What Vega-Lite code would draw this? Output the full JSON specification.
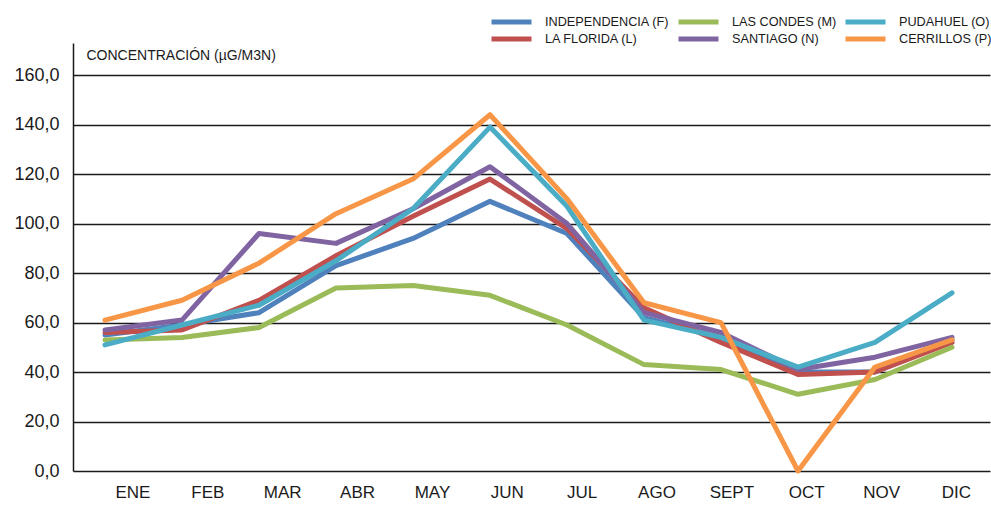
{
  "$schema": "https://vega.github.io/schema/vega-lite/v6.json",
  "width": 917,
  "height": 428,
  "autosize": {"type": "none"},
  "padding": {"left": 73, "top": 43, "right": 1, "bottom": 34},
  "background": "white",
  "config": {
    "view": {"stroke": null},
    "font": "Liberation Sans",
    "axis": {"labelFont": "Liberation Sans", "titleFont": "Liberation Sans"},
    "legend": {"labelFont": "Liberation Sans"}
  },
  "data": {
    "values": [
      {"n": 1, "mes": "ENE", "estacion": "INDEPENDENCIA (F)", "valor": 55},
      {"n": 2, "mes": "FEB", "estacion": "INDEPENDENCIA (F)", "valor": 59},
      {"n": 3, "mes": "MAR", "estacion": "INDEPENDENCIA (F)", "valor": 64},
      {"n": 4, "mes": "ABR", "estacion": "INDEPENDENCIA (F)", "valor": 83},
      {"n": 5, "mes": "MAY", "estacion": "INDEPENDENCIA (F)", "valor": 94},
      {"n": 6, "mes": "JUN", "estacion": "INDEPENDENCIA (F)", "valor": 109},
      {"n": 7, "mes": "JUL", "estacion": "INDEPENDENCIA (F)", "valor": 96},
      {"n": 8, "mes": "AGO", "estacion": "INDEPENDENCIA (F)", "valor": 62},
      {"n": 9, "mes": "SEPT", "estacion": "INDEPENDENCIA (F)", "valor": 54},
      {"n": 10, "mes": "OCT", "estacion": "INDEPENDENCIA (F)", "valor": 40},
      {"n": 11, "mes": "NOV", "estacion": "INDEPENDENCIA (F)", "valor": 40},
      {"n": 12, "mes": "DIC", "estacion": "INDEPENDENCIA (F)", "valor": 53},
      {"n": 1, "mes": "ENE", "estacion": "LA FLORIDA (L)", "valor": 56},
      {"n": 2, "mes": "FEB", "estacion": "LA FLORIDA (L)", "valor": 57},
      {"n": 3, "mes": "MAR", "estacion": "LA FLORIDA (L)", "valor": 69},
      {"n": 4, "mes": "ABR", "estacion": "LA FLORIDA (L)", "valor": 87},
      {"n": 5, "mes": "MAY", "estacion": "LA FLORIDA (L)", "valor": 103},
      {"n": 6, "mes": "JUN", "estacion": "LA FLORIDA (L)", "valor": 118},
      {"n": 7, "mes": "JUL", "estacion": "LA FLORIDA (L)", "valor": 98},
      {"n": 8, "mes": "AGO", "estacion": "LA FLORIDA (L)", "valor": 66},
      {"n": 9, "mes": "SEPT", "estacion": "LA FLORIDA (L)", "valor": 52},
      {"n": 10, "mes": "OCT", "estacion": "LA FLORIDA (L)", "valor": 39},
      {"n": 11, "mes": "NOV", "estacion": "LA FLORIDA (L)", "valor": 40},
      {"n": 12, "mes": "DIC", "estacion": "LA FLORIDA (L)", "valor": 52},
      {"n": 1, "mes": "ENE", "estacion": "LAS CONDES (M)", "valor": 53},
      {"n": 2, "mes": "FEB", "estacion": "LAS CONDES (M)", "valor": 54},
      {"n": 3, "mes": "MAR", "estacion": "LAS CONDES (M)", "valor": 58},
      {"n": 4, "mes": "ABR", "estacion": "LAS CONDES (M)", "valor": 74},
      {"n": 5, "mes": "MAY", "estacion": "LAS CONDES (M)", "valor": 75},
      {"n": 6, "mes": "JUN", "estacion": "LAS CONDES (M)", "valor": 71},
      {"n": 7, "mes": "JUL", "estacion": "LAS CONDES (M)", "valor": 59},
      {"n": 8, "mes": "AGO", "estacion": "LAS CONDES (M)", "valor": 43},
      {"n": 9, "mes": "SEPT", "estacion": "LAS CONDES (M)", "valor": 41},
      {"n": 10, "mes": "OCT", "estacion": "LAS CONDES (M)", "valor": 31},
      {"n": 11, "mes": "NOV", "estacion": "LAS CONDES (M)", "valor": 37},
      {"n": 12, "mes": "DIC", "estacion": "LAS CONDES (M)", "valor": 50},
      {"n": 1, "mes": "ENE", "estacion": "SANTIAGO (N)", "valor": 57},
      {"n": 2, "mes": "FEB", "estacion": "SANTIAGO (N)", "valor": 61},
      {"n": 3, "mes": "MAR", "estacion": "SANTIAGO (N)", "valor": 96},
      {"n": 4, "mes": "ABR", "estacion": "SANTIAGO (N)", "valor": 92},
      {"n": 5, "mes": "MAY", "estacion": "SANTIAGO (N)", "valor": 106},
      {"n": 6, "mes": "JUN", "estacion": "SANTIAGO (N)", "valor": 123},
      {"n": 7, "mes": "JUL", "estacion": "SANTIAGO (N)", "valor": 100},
      {"n": 8, "mes": "AGO", "estacion": "SANTIAGO (N)", "valor": 64},
      {"n": 9, "mes": "SEPT", "estacion": "SANTIAGO (N)", "valor": 56},
      {"n": 10, "mes": "OCT", "estacion": "SANTIAGO (N)", "valor": 41},
      {"n": 11, "mes": "NOV", "estacion": "SANTIAGO (N)", "valor": 46},
      {"n": 12, "mes": "DIC", "estacion": "SANTIAGO (N)", "valor": 54},
      {"n": 1, "mes": "ENE", "estacion": "PUDAHUEL (O)", "valor": 51},
      {"n": 2, "mes": "FEB", "estacion": "PUDAHUEL (O)", "valor": 59},
      {"n": 3, "mes": "MAR", "estacion": "PUDAHUEL (O)", "valor": 67},
      {"n": 4, "mes": "ABR", "estacion": "PUDAHUEL (O)", "valor": 85},
      {"n": 5, "mes": "MAY", "estacion": "PUDAHUEL (O)", "valor": 106},
      {"n": 6, "mes": "JUN", "estacion": "PUDAHUEL (O)", "valor": 139},
      {"n": 7, "mes": "JUL", "estacion": "PUDAHUEL (O)", "valor": 107},
      {"n": 8, "mes": "AGO", "estacion": "PUDAHUEL (O)", "valor": 61},
      {"n": 9, "mes": "SEPT", "estacion": "PUDAHUEL (O)", "valor": 54},
      {"n": 10, "mes": "OCT", "estacion": "PUDAHUEL (O)", "valor": 42},
      {"n": 11, "mes": "NOV", "estacion": "PUDAHUEL (O)", "valor": 52},
      {"n": 12, "mes": "DIC", "estacion": "PUDAHUEL (O)", "valor": 72},
      {"n": 1, "mes": "ENE", "estacion": "CERRILLOS (P)", "valor": 61},
      {"n": 2, "mes": "FEB", "estacion": "CERRILLOS (P)", "valor": 69},
      {"n": 3, "mes": "MAR", "estacion": "CERRILLOS (P)", "valor": 84},
      {"n": 4, "mes": "ABR", "estacion": "CERRILLOS (P)", "valor": 104},
      {"n": 5, "mes": "MAY", "estacion": "CERRILLOS (P)", "valor": 118},
      {"n": 6, "mes": "JUN", "estacion": "CERRILLOS (P)", "valor": 144},
      {"n": 7, "mes": "JUL", "estacion": "CERRILLOS (P)", "valor": 110},
      {"n": 8, "mes": "AGO", "estacion": "CERRILLOS (P)", "valor": 68},
      {"n": 9, "mes": "SEPT", "estacion": "CERRILLOS (P)", "valor": 60},
      {"n": 10, "mes": "OCT", "estacion": "CERRILLOS (P)", "valor": 0},
      {"n": 11, "mes": "NOV", "estacion": "CERRILLOS (P)", "valor": 42},
      {"n": 12, "mes": "DIC", "estacion": "CERRILLOS (P)", "valor": 53}
    ]
  },
  "encoding": {
    "y": {
      "field": "valor",
      "type": "quantitative",
      "scale": {"domain": [0, 173], "nice": false},
      "axis": {
        "values": [0, 20, 40, 60, 80, 100, 120, 140, 160],
        "labelExpr": "replace(format(datum.value, '.1f'), '.', ',')",
        "labelFontSize": 18,
        "labelColor": "#1a1a1a",
        "labelPadding": 14,
        "ticks": false,
        "grid": true,
        "gridColor": "#1a1a1a",
        "gridWidth": 1.3,
        "domain": true,
        "domainColor": "#1a1a1a",
        "domainWidth": 1.5,
        "title": "CONCENTRACIÓN (µG/M3N)",
        "titleAngle": 0,
        "titleAlign": "left",
        "titleBaseline": "middle",
        "titleX": 13,
        "titleY": 12,
        "titleFontSize": 14,
        "titleFontWeight": "normal",
        "titleColor": "#1a1a1a"
      }
    }
  },
  "layer": [
    {
      "mark": {"type": "line", "strokeWidth": 5, "strokeCap": "round", "strokeJoin": "round"},
      "encoding": {
        "x": {
          "field": "n",
          "type": "quantitative",
          "scale": {"domain": [0.5844, 12.4935], "nice": false, "zero": false},
          "axis": null
        },
        "color": {
          "field": "estacion",
          "type": "nominal",
          "scale": {
            "domain": ["INDEPENDENCIA (F)", "LAS CONDES (M)", "PUDAHUEL (O)", "LA FLORIDA (L)", "SANTIAGO (N)", "CERRILLOS (P)"],
            "range": ["#4F81BD", "#9BBB59", "#4BACC6", "#C0504D", "#8064A2", "#F79646"]
          },
          "legend": {
            "title": null,
            "orient": "none",
            "legendX": 416,
            "legendY": -28,
            "padding": 0,
            "columns": 3,
            "direction": "horizontal",
            "symbolType": "stroke",
            "symbolSize": 1600,
            "symbolStrokeWidth": 5,
            "clipHeight": 14,
            "labelFontSize": 12.7,
            "labelColor": "#1a1a1a",
            "labelOffset": 11,
            "columnPadding": 6,
            "rowPadding": 3
          }
        }
      }
    },
    {
      "mark": {"type": "point", "opacity": 0},
      "encoding": {
        "x": {
          "field": "mes",
          "type": "ordinal",
          "scale": {
            "type": "point",
            "domain": ["ENE", "FEB", "MAR", "ABR", "MAY", "JUN", "JUL", "AGO", "SEPT", "OCT", "NOV", "DIC"],
            "padding": 0.6245,
            "align": 0.636
          },
          "axis": {
            "orient": "bottom",
            "title": null,
            "domain": false,
            "ticks": false,
            "grid": false,
            "labelAngle": 0,
            "labelFontSize": 17,
            "labelColor": "#1a1a1a",
            "labelPadding": 13
          }
        }
      }
    }
  ],
  "resolve": {"scale": {"x": "independent"}, "axis": {"x": "independent"}}
}
